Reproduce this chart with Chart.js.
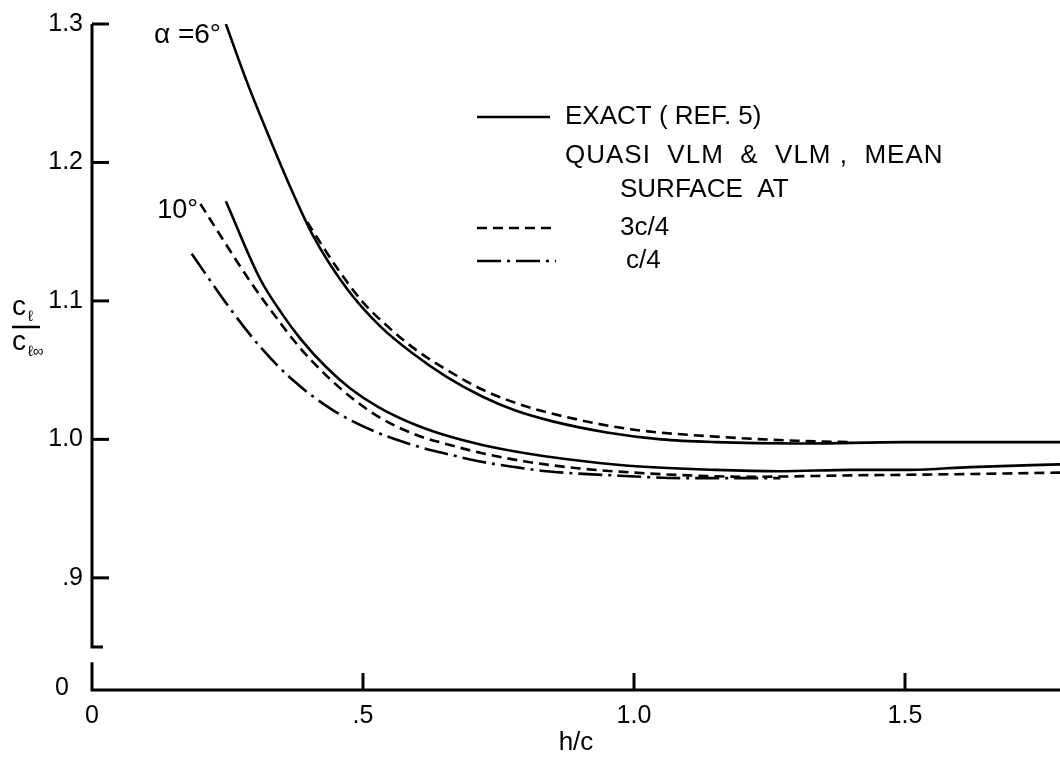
<!DOCTYPE html>
<html>
<head>
<meta charset="utf-8">
<script src="https://cdn.jsdelivr.net/npm/chart.js@4.4.1/dist/chart.umd.min.js"></script>
<style>
  html, body { margin: 0; padding: 0; background: #fff; }
  #wrap { width: 1060px; height: 758px; position: relative; }
</style>
</head>
<body>
<div id="wrap"><canvas id="liftChart"></canvas></div>
<script>
// cl/cl_inf against h/c
const exact6X = [0.247, 0.286, 0.323, 0.365, 0.408, 0.47, 0.531, 0.592, 0.655, 0.72, 0.78, 0.85, 0.95, 1.05, 1.15, 1.3, 1.5, 1.79];
const exact6Y = [1.300, 1.258, 1.222, 1.183, 1.147, 1.109, 1.082, 1.062, 1.045, 1.031, 1.021, 1.013, 1.005, 1.000, 0.998, 0.997, 0.998, 0.998];

const quarter3_6X = [0.397, 0.45, 0.5, 0.55, 0.6, 0.66, 0.72, 0.8, 0.9, 1.0, 1.15, 1.3, 1.4];
const quarter3_6Y = [1.157, 1.125, 1.099, 1.080, 1.064, 1.049, 1.036, 1.024, 1.014, 1.007, 1.002, 0.999, 0.998];

const exact10X = [0.247, 0.31, 0.35, 0.384, 0.43, 0.476, 0.53, 0.6, 0.66, 0.72, 0.80, 0.87, 0.99, 1.15, 1.27, 1.4, 1.51, 1.62, 1.79];
const exact10Y = [1.172, 1.116, 1.091, 1.073, 1.053, 1.037, 1.023, 1.010, 1.002, 0.996, 0.990, 0.986, 0.981, 0.978, 0.977, 0.978, 0.978, 0.980, 0.982];

const quarter3_10X = [0.20, 0.292, 0.34, 0.384, 0.43, 0.476, 0.53, 0.6, 0.66, 0.72, 0.80, 0.90, 1.0, 1.1, 1.214, 1.4, 1.625, 1.79];
const quarter3_10Y = [1.170, 1.114, 1.088, 1.066, 1.047, 1.031, 1.016, 1.003, 0.996, 0.990, 0.984, 0.979, 0.976, 0.974, 0.973, 0.974, 0.975, 0.976];

const quarter1_10X = [0.184, 0.25, 0.31, 0.37, 0.445, 0.52, 0.6, 0.66, 0.716, 0.78, 0.839, 0.961, 1.1, 1.27];
const quarter1_10Y = [1.134, 1.097, 1.067, 1.043, 1.021, 1.006, 0.995, 0.989, 0.984, 0.980, 0.977, 0.974, 0.972, 0.972];

const xTickValues = [0, 0.5, 1.0, 1.5];
const xTickLabels = ['0', '.5', '1.0', '1.5'];
const yTickValues = [0.9, 1.0, 1.1, 1.2, 1.3];
const yTickLabels = ['.9', '1.0', '1.1', '1.2', '1.3'];
const yBreakLabel = '0';

// axis is broken below .85, the stub at the bottom is labelled 0
const xMin = 0, xMax = 1.786;
const yMin = 0.819, yMax = 1.3;
const yBreakTop = 0.850, yBreakBottom = 0.839;

const FONT = "'Liberation Sans', Arial, sans-serif";
const DASHED = [10, 6];
const DASH_DOT = [24, 6, 3, 6];

function pts(xs, ys) {
  return xs.map((x, i) => ({ x: x, y: ys[i] }));
}

function curve(label, xs, ys, dash) {
  return {
    label: label,
    data: pts(xs, ys),
    borderColor: '#000',
    borderWidth: 2.6,
    borderDash: dash,
    pointRadius: 0,
    fill: false,
    cubicInterpolationMode: 'monotone'
  };
}

// axes drawn the way the paper draws them: ticks inside, broken y axis
const paperAxes = {
  id: 'paperAxes',
  afterDraw(chart) {
    const { ctx, scales: { x, y } } = chart;
    const x0 = x.getPixelForValue(xMin);
    const yb = y.getPixelForValue(yMin);
    ctx.save();
    ctx.strokeStyle = '#000';
    ctx.fillStyle = '#000';
    ctx.lineWidth = 3;
    ctx.setLineDash([]);

    ctx.beginPath();
    ctx.moveTo(x0, y.getPixelForValue(yMax));
    ctx.lineTo(x0, y.getPixelForValue(yBreakTop));
    ctx.lineTo(x0 + 11, y.getPixelForValue(yBreakTop));
    ctx.stroke();

    ctx.beginPath();
    ctx.moveTo(x0, y.getPixelForValue(yBreakBottom));
    ctx.lineTo(x0, yb);
    ctx.lineTo(x.getPixelForValue(xMax), yb);
    ctx.stroke();

    yTickValues.forEach(v => {
      const py = y.getPixelForValue(v);
      ctx.beginPath();
      ctx.moveTo(x0, py);
      ctx.lineTo(x0 + 17, py);
      ctx.stroke();
    });
    xTickValues.forEach(v => {
      if (v === xMin) return;
      const px = x.getPixelForValue(v);
      ctx.beginPath();
      ctx.moveTo(px, yb);
      ctx.lineTo(px, yb - 17);
      ctx.stroke();
    });

    // label of the bottom stub sits further out than the others
    ctx.font = '25px ' + FONT;
    ctx.textAlign = 'center';
    ctx.textBaseline = 'middle';
    ctx.fillText(yBreakLabel, x0 - 30, yb - 2);

    // y axis title as a fraction
    ctx.lineWidth = 2.5;
    ctx.beginPath();
    ctx.moveTo(12, 327);
    ctx.lineTo(40, 327);
    ctx.stroke();
    ctx.textBaseline = 'alphabetic';
    ctx.textAlign = 'left';
    ctx.font = '28px ' + FONT;
    ctx.fillText('c', 12, 315);
    ctx.fillText('c', 12, 350);
    ctx.font = '15px ' + FONT;
    ctx.fillText('ℓ', 28, 321);
    ctx.fillText('ℓ∞', 28, 356);

    // curve labels
    ctx.font = '28px ' + FONT;
    ctx.textAlign = 'right';
    ctx.fillText('α =6°', 221, 43);
    ctx.font = '27px ' + FONT;
    ctx.fillText('10°', 198, 218);

    // key
    const ds = chart.data.datasets;
    const keyRows = [
      { dash: ds[0].borderDash, y: 117, text: 'EXACT ( REF. 5)', tx: 565, sp: '0px' },
      { dash: null, y: 156, text: 'QUASI  VLM  &  VLM ,  MEAN', tx: 565, sp: '1px' },
      { dash: null, y: 190, text: 'SURFACE  AT', tx: 620, sp: '0px' },
      { dash: ds[1].borderDash, y: 228, text: '3c/4', tx: 620, sp: '0px' },
      { dash: ds[4].borderDash, y: 261, text: 'c/4', tx: 626, sp: '0px' }
    ];
    ctx.textAlign = 'left';
    ctx.textBaseline = 'middle';
    ctx.font = '26px ' + FONT;
    keyRows.forEach(r => {
      if (r.dash) {
        ctx.lineWidth = 2.6;
        ctx.setLineDash(r.dash);
        ctx.beginPath();
        ctx.moveTo(477, r.y);
        ctx.lineTo(r.dash.length ? 556 : 550, r.y);
        ctx.stroke();
        ctx.setLineDash([]);
      }
      ctx.letterSpacing = r.sp;
      ctx.fillText(r.text, r.tx, r.y);
    });
    ctx.letterSpacing = '0px';
    ctx.restore();
  }
};

const ctx = document.getElementById('liftChart').getContext('2d');

const liftChart = new Chart(ctx, {
  type: 'line',
  data: {
    datasets: [
      curve('EXACT (REF. 5) 6°', exact6X, exact6Y, []),
      curve('3c/4 6°', quarter3_6X, quarter3_6Y, DASHED),
      curve('EXACT (REF. 5) 10°', exact10X, exact10Y, []),
      curve('3c/4 10°', quarter3_10X, quarter3_10Y, DASHED),
      curve('c/4 10°', quarter1_10X, quarter1_10Y, DASH_DOT)
    ]
  },
  options: {
    responsive: true,
    maintainAspectRatio: false,
    animation: false,
    layout: { padding: { top: 24, right: 0, left: 0, bottom: 0 } },
    plugins: {
      legend: { display: false },
      tooltip: { enabled: false }
    },
    scales: {
      x: {
        type: 'linear',
        min: xMin,
        max: xMax,
        grid: { display: false, drawTicks: false },
        border: { display: false },
        afterBuildTicks: scale => { scale.ticks = xTickValues.map(v => ({ value: v })); },
        afterFit: scale => { scale.height = 68; },
        ticks: {
          color: '#000',
          padding: 11,
          maxRotation: 0,
          font: { family: FONT, size: 25 },
          callback: v => xTickLabels[xTickValues.indexOf(v)]
        },
        title: {
          display: true,
          text: 'h/c',
          color: '#000',
          padding: { top: 0, bottom: 0 },
          font: { family: FONT, size: 26 }
        }
      },
      y: {
        type: 'linear',
        min: yMin,
        max: yMax,
        grid: { display: false, drawTicks: false },
        border: { display: false },
        afterBuildTicks: scale => { scale.ticks = yTickValues.map(v => ({ value: v })); },
        afterFit: scale => { scale.width = 92; },
        ticks: {
          color: '#000',
          padding: 9,
          font: { family: FONT, size: 25 },
          callback: v => yTickLabels[yTickValues.indexOf(v)]
        }
      }
    }
  },
  plugins: [paperAxes]
});
</script>
</body>
</html>
